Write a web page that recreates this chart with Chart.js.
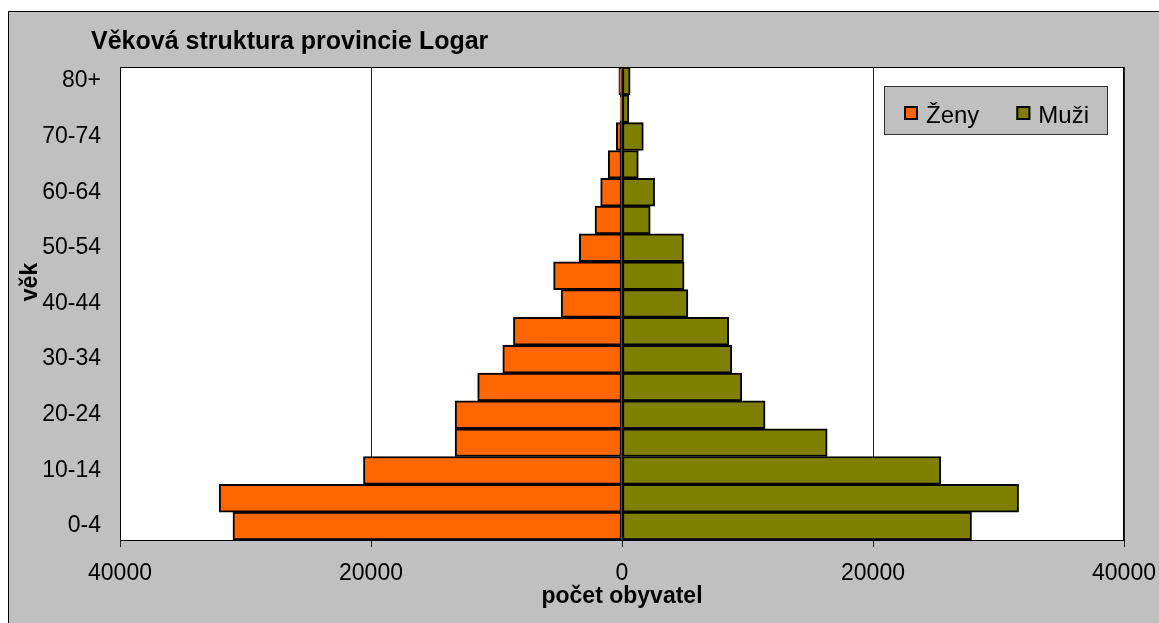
<!DOCTYPE html>
<html lang="cs">
<head>
<meta charset="utf-8">
<title>Věková struktura provincie Logar</title>
<script src="https://cdn.jsdelivr.net/npm/chart.js@4.4.1/dist/chart.umd.min.js"></script>
<style>
  html, body { margin: 0; padding: 0; background: #fff; overflow: hidden; }
  #frame { position: absolute; left: 8px; top: 11px; width: 1170px; height: 630px; border: 1px solid #000; background: #c0c0c0; }
  #box { position: relative; width: 1150px; height: 611px; }
</style>
</head>
<body>
<div id="frame"><div id="box"><canvas id="pyramid"></canvas></div></div>
<script>
// věkové skupiny (odspodu nahoru)
const ageGroups = ['0-4', '5-9', '10-14', '15-19', '20-24', '25-29', '30-34', '35-39', '40-44',
                   '45-49', '50-54', '55-59', '60-64', '65-69', '70-74', '75-79', '80+'];
// počet obyvatel
const zeny = [31000, 32100, 20600, 13300, 13300, 11500, 9500, 8650, 4850,
              5450, 3400, 2150, 1700, 1100, 450, 150, 250];
const muzi = [27850, 31600, 25400, 16350, 11400, 9550, 8750, 8500, 5250,
              4950, 4900, 2250, 2600, 1300, 1700, 550, 650];
const xTicks = [-40000, -20000, 0, 20000, 40000];

const FONT = '"Liberation Sans", Arial, sans-serif';
Chart.defaults.font.family = FONT;
Chart.defaults.color = '#000';

// bílá plocha grafu, rámeček, nadpis, popisek osy y a legenda ve stylu Excelu
const excelLook = {
    id: 'excelLook',
    beforeDraw(chart) {
        const { ctx, chartArea: a } = chart;
        ctx.save();
        ctx.fillStyle = '#fff';
        ctx.fillRect(a.left, a.top, a.width, a.height);
        ctx.restore();
    },
    afterDraw(chart) {
        const { ctx, chartArea: a } = chart;
        ctx.save();

        // rámeček plochy
        ctx.strokeStyle = '#000';
        ctx.lineWidth = 1;
        ctx.strokeRect(a.left + 0.5, a.top + 0.5, a.width - 1, a.height);

        // nadpis
        ctx.fillStyle = '#000';
        ctx.font = 'bold 25px ' + FONT;
        ctx.textAlign = 'left';
        ctx.textBaseline = 'alphabetic';
        ctx.fillText('Věková struktura provincie Logar', 82, 37);

        // popisek osy y
        ctx.save();
        ctx.translate(28, 270);
        ctx.rotate(-Math.PI / 2);
        ctx.font = 'bold 23px ' + FONT;
        ctx.textAlign = 'center';
        ctx.fillText('věk', 0, 0);
        ctx.restore();

        // legenda
        const w = 224, h = 49;
        const x0 = a.right - 16 - w, y0 = a.top + 19;
        ctx.fillStyle = '#c0c0c0';
        ctx.fillRect(x0, y0, w, h);
        ctx.strokeStyle = '#333';
        ctx.strokeRect(x0 + 0.5, y0 + 0.5, w - 1, h - 1);
        ctx.font = '24px ' + FONT;
        let x = x0 + 20;
        chart.data.datasets.forEach(ds => {
            ctx.fillStyle = ds.backgroundColor;
            ctx.fillRect(x, y0 + 20, 14, 14);
            ctx.strokeStyle = '#000';
            ctx.lineWidth = 2;
            ctx.strokeRect(x + 1, y0 + 21, 12, 12);
            ctx.fillStyle = '#000';
            ctx.fillText(ds.label, x + 22, y0 + 37);
            x += 22 + ctx.measureText(ds.label).width + 37;
        });
        ctx.restore();
    }
};

new Chart(document.getElementById('pyramid'), {
    type: 'bar',
    data: {
        labels: ageGroups,
        datasets: [{
            label: 'Ženy',
            data: zeny.map(v => -v),
            backgroundColor: '#ff6600'
        }, {
            label: 'Muži',
            data: muzi,
            backgroundColor: '#808000'
        }]
    },
    options: {
        indexAxis: 'y',
        responsive: true,
        maintainAspectRatio: false,
        animation: false,
        layout: { padding: { top: 55, right: 35, bottom: 0, left: 0 } },
        datasets: {
            bar: {
                barPercentage: 1,
                categoryPercentage: 1,
                borderColor: '#000',
                borderWidth: 2,
                borderSkipped: false
            }
        },
        scales: {
            x: {
                stacked: true,
                min: -40000,
                max: 40000,
                afterBuildTicks: s => { s.ticks = xTicks.map(v => ({ value: v })); },
                ticks: {
                    callback: v => Math.abs(v),
                    font: { size: 23 },
                    padding: 13,
                    maxRotation: 0
                },
                grid: { color: '#222', lineWidth: 1, tickLength: 7 },
                border: { display: true, color: '#000' },
                title: {
                    display: true,
                    text: 'počet obyvatel',
                    font: { size: 23, weight: 'bold' },
                    padding: { top: 0, bottom: 13 }
                },
                afterFit: s => {
                    s.height = 83;
                    s.paddingLeft = 0;
                    s.paddingRight = 0;
                }
            },
            y: {
                stacked: true,
                reverse: true,
                grid: { display: false, drawTicks: false },
                border: { display: true, color: '#000' },
                ticks: {
                    autoSkip: false,
                    padding: 19,
                    font: { size: 23 },
                    callback: (v, i) => (i % 2 === 0 ? ageGroups[i] : '')
                },
                afterFit: s => { s.width = 111; }
            }
        },
        plugins: {
            legend: { display: false },
            tooltip: {
                callbacks: {
                    label: c => `${c.dataset.label}: ${Math.abs(c.raw)}`
                }
            }
        }
    },
    plugins: [excelLook]
});
</script>
</body>
</html>
